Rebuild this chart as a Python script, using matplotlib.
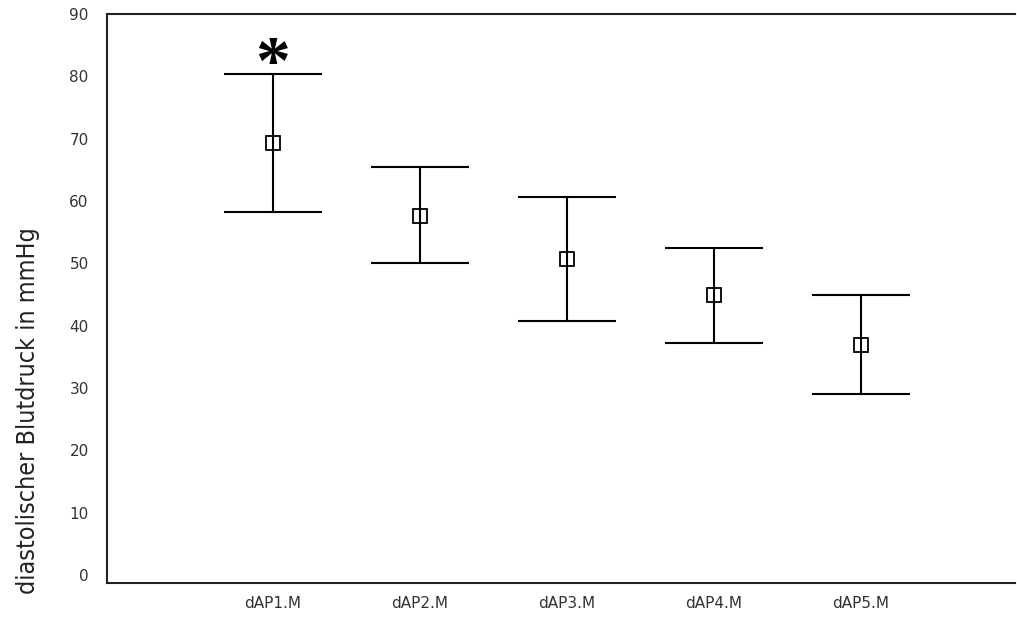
import matplotlib.pyplot as plt
import numpy as np

# mittelwerte und grenzen der fehlerbalken
labels = ['dAP1.M', 'dAP2.M', 'dAP3.M', 'dAP4.M', 'dAP5.M']
mittel = [69.3, 57.6, 50.7, 44.9, 36.9]
oben = [80.4, 65.5, 60.7, 52.5, 44.9]
unten = [58.3, 50.1, 40.8, 37.2, 29.1]

x = np.arange(1, len(labels) + 1)
m = np.array(mittel)
err = [m - np.array(unten), np.array(oben) - m]

fig = plt.figure(figsize=(10.17, 6.17), dpi=100)
ax = fig.add_axes([0.105, 0.055, 0.893, 0.922])

ax.errorbar(x, m, yerr=err, fmt='none', ecolor='black', elinewidth=1.5,
            capsize=35, capthick=1.5, zorder=2)
ax.plot(x, m, linestyle='none', marker='s', markersize=9.5, mfc='none',
        mec='black', mew=1.3, zorder=3)

# stern ueber dAP1
ax.text(x[0], oben[0] - 4.0, '*', ha='center', va='bottom', fontsize=50,
        fontweight='bold', family='Liberation Serif', color='black')

ax.set_xlim(-0.13, 6.05)
ax.set_ylim(-1.3, 90)
ax.set_yticks(np.arange(0, 91, 10))
ax.set_xticks(x)
ax.set_xticklabels(labels)
ax.tick_params(axis='x', length=0, labelsize=11, labelcolor='#333333', pad=9)
ax.tick_params(axis='y', length=0, labelsize=11, labelcolor='#333333', pad=13)
for lab in ax.get_yticklabels() + ax.get_xticklabels():
    lab.set_family('DejaVu Sans')
ax.set_ylabel('diastolischer Blutdruck in mmHg', fontsize=18,
              family='DejaVu Sans', fontstretch='condensed',
              color='#222222')
ax.yaxis.set_label_coords(-0.074, 0.304)

for s in ['left', 'bottom', 'top']:
    ax.spines[s].set_linewidth(1.5)
    ax.spines[s].set_color('#222222')
ax.spines['right'].set_visible(False)

fig.savefig('out.png', dpi=100)
